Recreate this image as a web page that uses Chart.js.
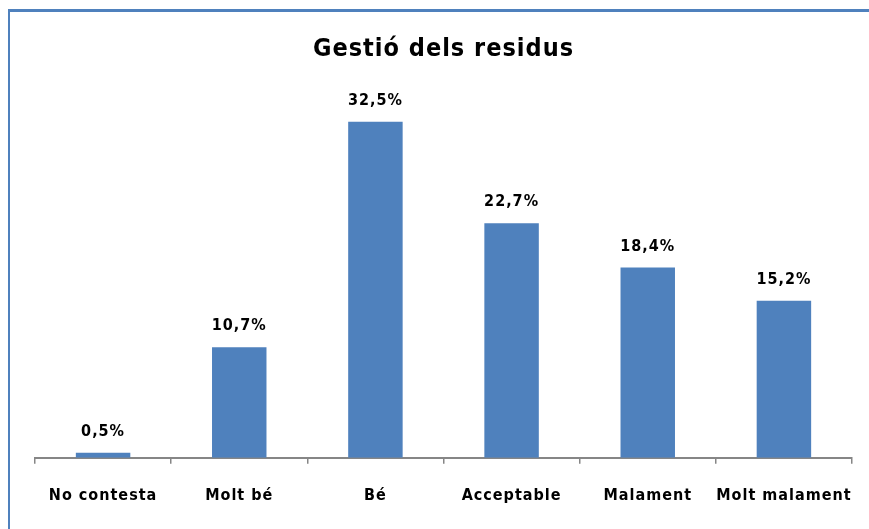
<!DOCTYPE html>
<html>
<head>
<meta charset="utf-8">
<script src="https://cdn.jsdelivr.net/npm/chart.js@4"></script>
<style>
    html, body { margin: 0; padding: 0; background: #fff; }
    #wrap { position: relative; width: 869px; height: 529px; overflow: hidden; }
    #frame {
        position: absolute; left: 8px; top: 9px; width: 900px; height: 600px;
        border-left: 2px solid #4F81BD; border-top: 3px solid #4F81BD;
    }
    canvas { position: absolute; left: 0; top: 0; }
</style>
</head>
<body>
<div id="wrap">
    <div id="frame"></div>
    <canvas id="chart" width="869" height="529"></canvas>
</div>
<script>
// 차트 데이터
const categories = ['No contesta', 'Molt bé', 'Bé', 'Acceptable', 'Malament', 'Molt malament'];
const percentValues = [0.5, 10.7, 32.5, 22.7, 18.4, 15.2];
const chartTitle = 'Gestió dels residus';

const FONT = '"DejaVu Sans Condensed", "Liberation Sans Narrow", sans-serif';

// 글자 간격 (원본 글꼴처럼 넓게)
const spacing = {
    id: 'spacing',
    beforeDraw(chart) {
        chart.ctx.letterSpacing = '1px';
    }
};

// 막대 위에 값 표시
const valueLabels = {
    id: 'valueLabels',
    afterDatasetsDraw(chart) {
        const ctx = chart.ctx;
        const meta = chart.getDatasetMeta(0);
        ctx.save();
        ctx.letterSpacing = '1px';
        ctx.font = 'bold 16px ' + FONT;
        ctx.fillStyle = '#000';
        ctx.textAlign = 'center';
        ctx.textBaseline = 'bottom';
        meta.data.forEach((bar, i) => {
            const txt = percentValues[i].toFixed(1).replace('.', ',') + '%';
            ctx.fillText(txt, bar.x, bar.y - 13);
        });
        ctx.restore();
    }
};

new Chart(document.getElementById('chart').getContext('2d'), {
    type: 'bar',
    data: {
        labels: categories,
        datasets: [{
            data: percentValues,
            backgroundColor: '#4F81BD',
            categoryPercentage: 1,
            barPercentage: 0.4
        }]
    },
    options: {
        responsive: false,
        animation: false,
        layout: { padding: { left: 35, right: 17, top: 30, bottom: 2 } },
        scales: {
            x: {
                offset: true,
                grid: {
                    offset: true,
                    drawOnChartArea: false,
                    tickLength: 6,
                    color: '#868686',
                    lineWidth: 1.5
                },
                border: { color: '#868686', width: 2 },
                ticks: {
                    padding: 22,
                    color: '#000',
                    font: { family: FONT, size: 16, weight: 'bold' }
                }
            },
            y: {
                display: false,
                min: 0,
                max: 35
            }
        },
        plugins: {
            legend: { display: false },
            tooltip: { enabled: false },
            title: {
                display: true,
                text: chartTitle,
                color: '#000',
                font: { family: FONT, size: 25, weight: 'bold' },
                padding: { top: 4, bottom: 32 }
            }
        }
    },
    plugins: [spacing, valueLabels]
});
</script>
</body>
</html>
